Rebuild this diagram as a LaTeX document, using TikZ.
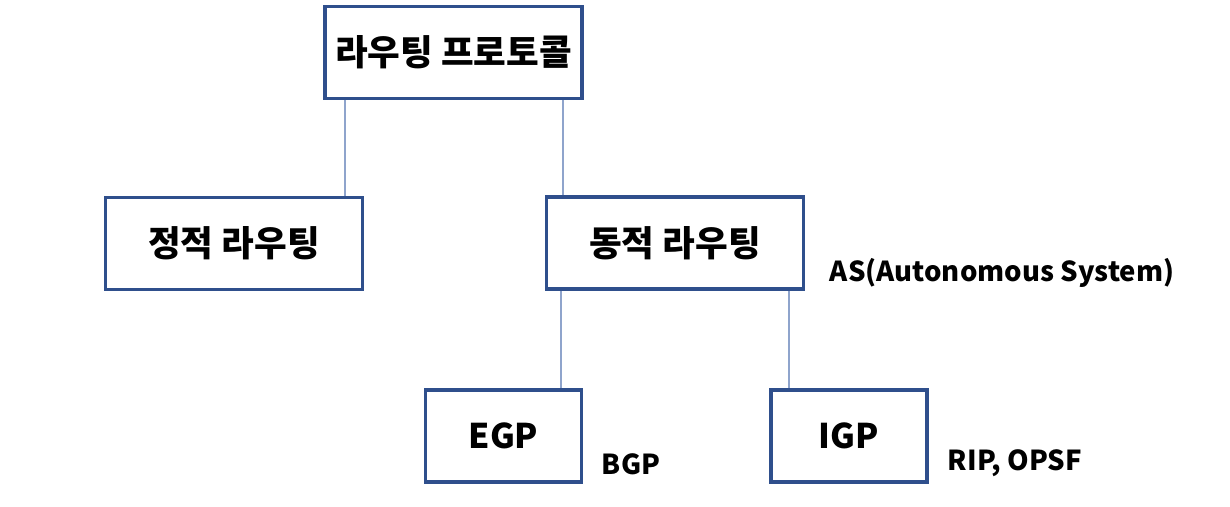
\documentclass[tikz,border=0pt]{standalone}
\usepackage{fontspec}
\setmainfont{Noto Sans CJK KR}
\usepackage{tikz}
\usetikzlibrary{positioning}
\definecolor{boxblue}{RGB}{47,79,140}
\definecolor{linkblue}{RGB}{143,164,204}
\newcommand{\boxfont}{\fontsize{35.5}{40}\selectfont\bfseries}
\newcommand{\protofont}{\fontsize{34}{40}\selectfont\bfseries}
\newcommand{\notefont}{\fontsize{27.5}{32}\selectfont\bfseries}

\begin{document}
\begin{tikzpicture}[x=1pt, y=-1pt,
        routebox/.style = {draw=boxblue, line width=3.5pt, fill=white, inner sep=0pt,
                           minimum width=257pt, minimum height=92pt, font=\boxfont},
        protobox/.style = {routebox, minimum width=156pt, font=\protofont},
        link/.style = {draw=linkblue, line width=1.1pt},
        note/.style = {inner sep=0pt, font=\notefont}]
                \useasboundingbox (0,0) rectangle (1230,506);
                \node[routebox] (proto) at (453.5, 52.5) {라우팅 프로토콜};
                \node[routebox] (static) at (234, 243.5) {정적 라우팅};
                \node[routebox] (dynamic) at (675, 243) {동적 라우팅};
                \node[protobox] (egp) at (503.5, 436) {EGP};
                \node[protobox] (igp) at (849, 436) {IGP};
                \draw[link] ([xshift=-108.5pt]proto.south) -- ([xshift=-108.5pt]proto.south |- static.north);
                \draw[link] ([xshift=109.5pt]proto.south) -- ([xshift=109.5pt]proto.south |- dynamic.north);
                \draw[link] ([xshift=-114pt]dynamic.south) -- ([xshift=-114pt]dynamic.south |- egp.north);
                \draw[link] ([xshift=114pt]dynamic.south) -- ([xshift=114pt]dynamic.south |- igp.north);
                \node[note] (as) at (1002, 273) {AS(Autonomous System)};
                \node[note] (bgp) at (631, 464) {BGP};
                \node[note] (rip) at (1015, 463) {RIP, OPSF};
        \end{tikzpicture}
\end{document}
